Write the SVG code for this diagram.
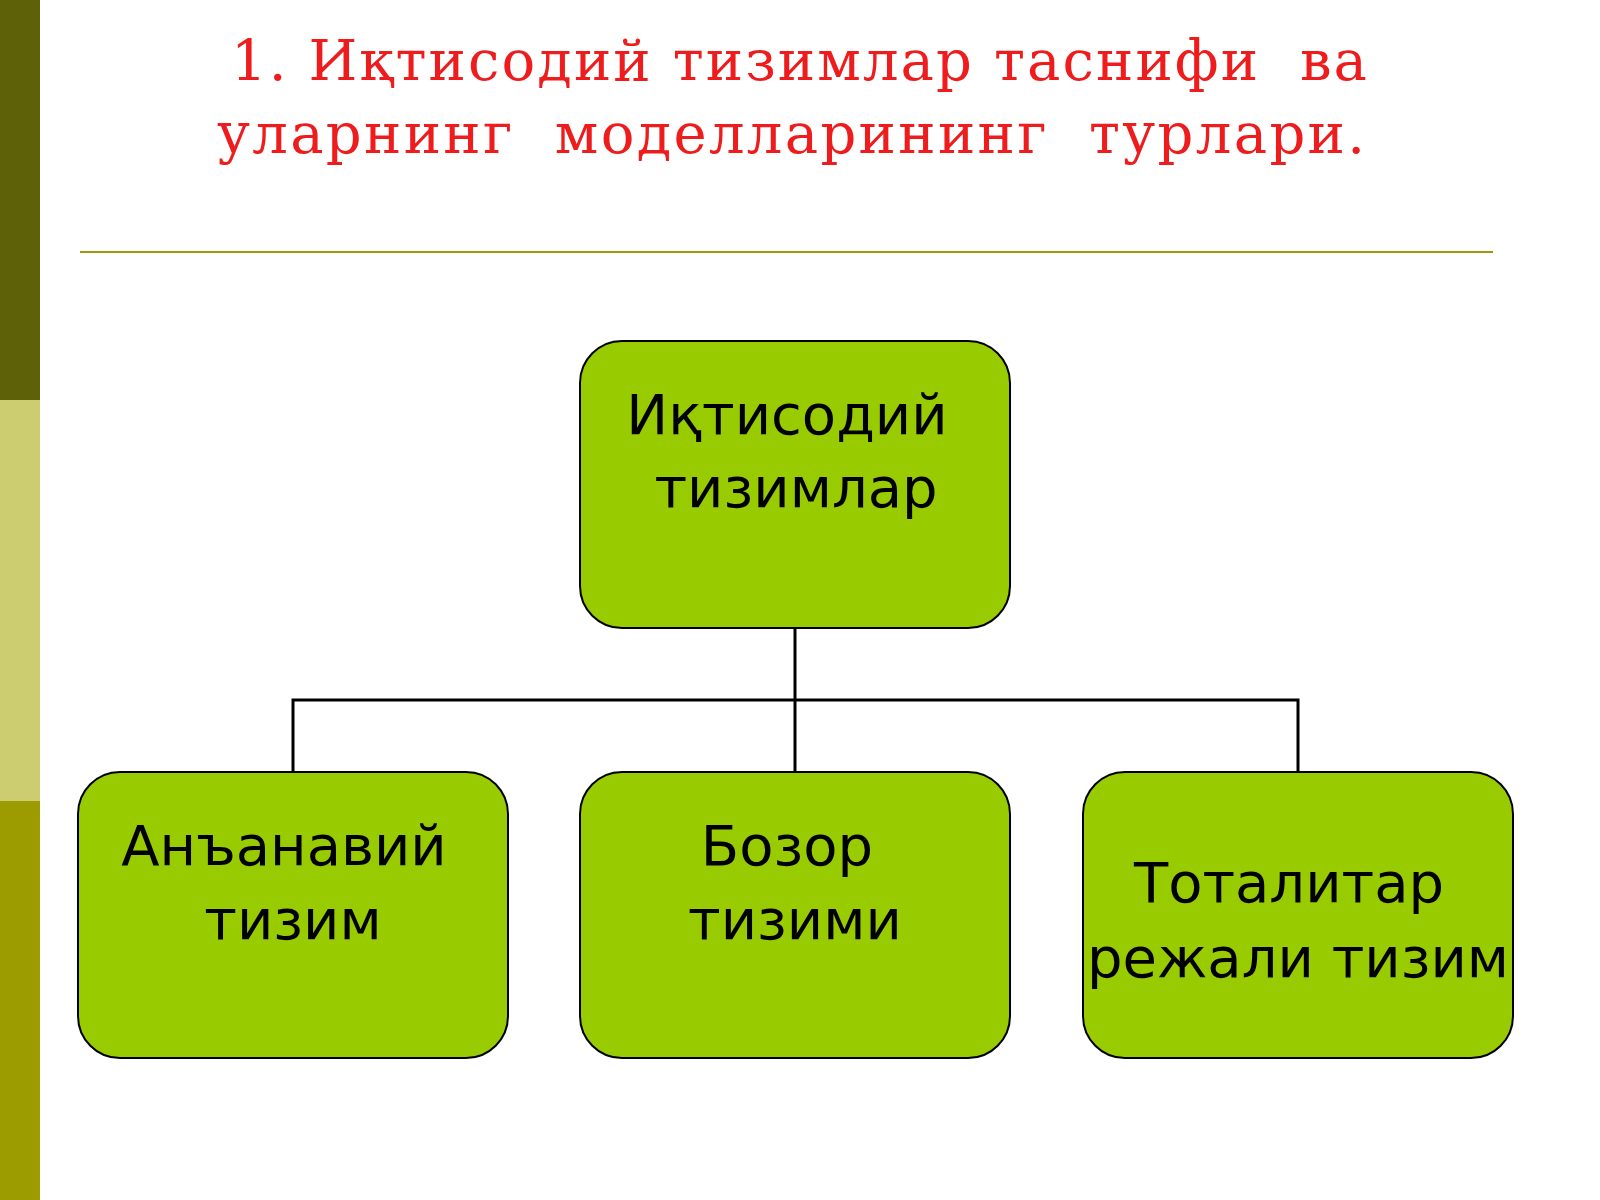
<svg xmlns="http://www.w3.org/2000/svg" width="1600" height="1200" viewBox="0 0 1600 1200">
<style>
.box{fill:#99cc00;stroke:#000;stroke-width:2}
.t{font-family:"DejaVu Sans",sans-serif;font-size:56px;fill:#000;text-anchor:middle}
.h{font-family:"DejaVu Serif",serif;font-size:56px;fill:#ee1c1c;text-anchor:middle}
.c{stroke:#000;stroke-width:3;fill:none}
</style>
<rect width="1600" height="1200" fill="#fff"/>
<rect x="0" y="0" width="40" height="400" fill="#5f6108"/>
<rect x="0" y="400" width="40" height="401" fill="#cccc70"/>
<rect x="0" y="801" width="40" height="399" fill="#9c9c00"/>
<g id="title">
<text class="h" x="799" y="80" textLength="1136" xml:space="preserve">1. Иқтисодий тизимлар таснифи  ва</text>
<text class="h" x="791" y="153" textLength="1148" xml:space="preserve">уларнинг  моделларининг  турлари.</text>
</g>
<line x1="80" y1="252" x2="1493" y2="252" stroke="#9a9a10" stroke-width="2"/>
<g id="connectors">
<path class="c" d="M795 628V772M293 772V700H1298V772"/>
</g>
<g id="n0"><rect class="box" x="580" y="341" width="430" height="287" rx="42"/>
<text class="t" x="787" y="434">Иқтисодий</text><text class="t" x="796" y="507">тизимлар</text></g>
<g id="n1"><rect class="box" x="78" y="772" width="430" height="286" rx="42"/>
<text class="t" x="284" y="865">Анъанавий</text><text class="t" x="293" y="939">тизим</text></g>
<g id="n2"><rect class="box" x="580" y="772" width="430" height="286" rx="42"/>
<text class="t" x="787" y="865">Бозор</text><text class="t" x="795" y="939">тизими</text></g>
<g id="n3"><rect class="box" x="1083" y="772" width="430" height="286" rx="42"/>
<text class="t" x="1289" y="902">Тоталитар</text><text class="t" x="1298" y="977">режали тизим</text></g>
</svg>
